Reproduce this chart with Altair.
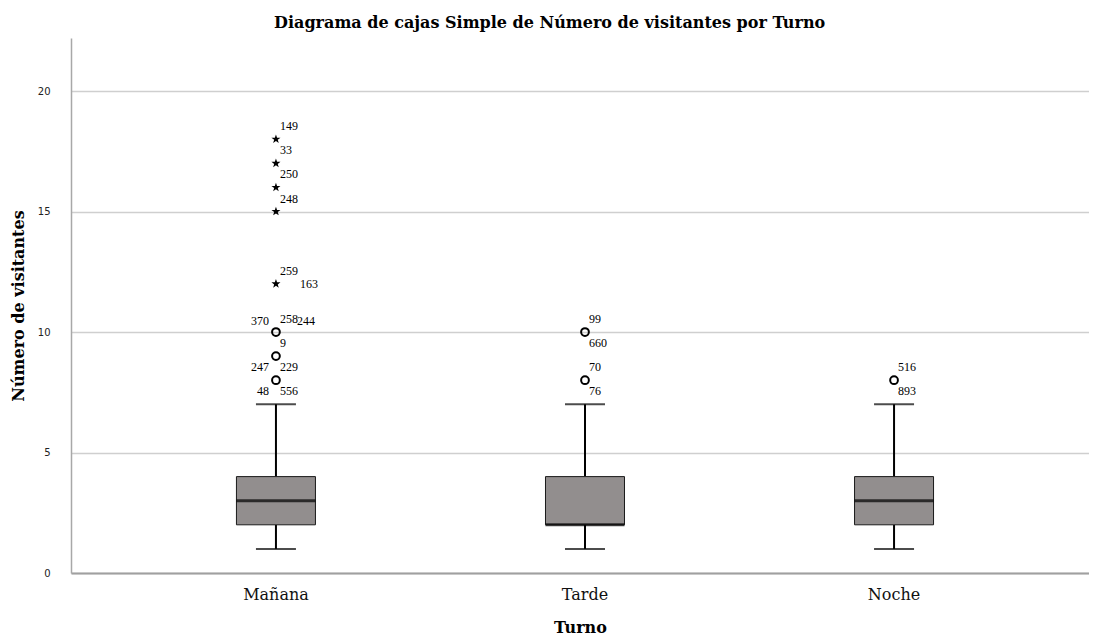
import altair as alt
import pandas as pd

# ---------------- data ----------------
categories = ["Mañana", "Tarde", "Noche"]
whisker_low = [1, 1, 1]
q1 = [2, 2, 2]
median = [3, 2, 3]
q3 = [4, 4, 4]
whisker_high = [7, 7, 7]

outlier_cat = ["Mañana", "Mañana", "Mañana", "Tarde", "Tarde", "Noche"]
outlier_val = [8, 9, 10, 8, 10, 8]

extreme_cat = ["Mañana", "Mañana", "Mañana", "Mañana", "Mañana"]
extreme_val = [12, 15, 16, 17, 18]

label_text = ["149", "33", "250", "248", "259", "163", "370", "258", "244",
              "9", "247", "229", "48", "556", "99", "660", "70", "76", "516", "893"]
label_cat = ["Mañana"] * 14 + ["Tarde"] * 4 + ["Noche"] * 2
label_val = [18, 17, 16, 15, 12, 12, 10, 10, 10, 9, 9, 9, 8, 8, 10, 10, 8, 8, 8, 8]
label_side = ["ur", "ur", "ur", "ur", "ur", "r", "ul", "ur", "ur2",
              "ur", "dl", "dr", "dl", "dr", "ur", "dr", "ur", "dr", "ur", "dr"]

# ---------------- tables ----------------
box_df = pd.DataFrame({"Turno": categories, "low": whisker_low, "q1": q1,
                       "median": median, "q3": q3, "high": whisker_high})
out_df = pd.DataFrame({"Turno": outlier_cat, "v": outlier_val})
ext_df = pd.DataFrame({"Turno": extreme_cat, "v": extreme_val})
lab_df = pd.DataFrame({"Turno": label_cat, "v": label_val, "t": label_text, "side": label_side})

SERIF = "Liberation Serif"
WSERIF = "DejaVu Serif"
y_scale = alt.Scale(domain=[0, 22.2], nice=False, zero=True)
x_scale = alt.Scale(domain=categories, paddingInner=0, paddingOuter=0.147, align=0.555)

x_enc = alt.X("Turno:N", sort=categories, scale=x_scale,
              axis=alt.Axis(title="Turno", labelAngle=0, ticks=False, tickSize=0, grid=False,
                            domainColor="#a0a0a0", domainWidth=2,
                            labelFont=WSERIF, labelFontSize=16, labelColor="#111111",
                            labelPadding=13,
                            titleFont=WSERIF, titleFontSize=16, titleFontWeight="bold",
                            titleColor="#000000", titlePadding=17))

y_axis = alt.Axis(title="Número de visitantes", values=[0, 5, 10, 15, 20],
                  grid=True, gridColor="#cfcfcf", gridWidth=1.5,
                  domainColor="#a8a8a8", domainWidth=1.5,
                  ticks=False, tickSize=0,
                  labelFont="DejaVu Sans", labelFontSize=10, labelColor="#222222",
                  labelPadding=21,
                  titleFont=WSERIF, titleFontSize=16, titleFontWeight="bold",
                  titleColor="#000000", titlePadding=11)

def Y(field):
    return alt.Y(field, type="quantitative", scale=y_scale, axis=y_axis)

base = alt.Chart(box_df)

whisk_lo = base.mark_rule(color="black", strokeWidth=2).encode(x=x_enc, y=Y("low"), y2="q1")
whisk_hi = base.mark_rule(color="black", strokeWidth=2).encode(x=x_enc, y=Y("q3"), y2="high")
cap_lo = base.mark_tick(color="black", size=40, thickness=2).encode(x=x_enc, y=Y("low"))
cap_hi = base.mark_tick(color="black", size=40, thickness=2).encode(x=x_enc, y=Y("high"))
box = base.mark_bar(size=79, color="#928e8e", stroke="#1a1a1a", strokeWidth=1).encode(
    x=x_enc, y=Y("q1"), y2="q3")
med = base.mark_tick(color="black", size=79, thickness=3).encode(x=x_enc, y=Y("median"))

circles = alt.Chart(out_df).mark_point(shape="circle", filled=False, color="black",
                                       strokeWidth=2, size=60, opacity=1).encode(
    x=x_enc, y=Y("v"))

STAR = ("M0,-1L0.235,-0.324L0.951,-0.309L0.380,0.124L0.588,0.809L0,0.4"
        "L-0.588,0.809L-0.380,0.124L-0.951,-0.309L-0.235,-0.324Z")
stars = alt.Chart(ext_df).mark_point(shape=STAR, filled=True, color="black",
                                     size=90, opacity=1).encode(x=x_enc, y=Y("v"))

side_style = {
    "ur": dict(dx=4, dy=-13, align="left"),
    "ur2": dict(dx=21, dy=-11, align="left"),
    "ul": dict(dx=-7, dy=-11, align="right"),
    "dr": dict(dx=4, dy=11, align="left"),
    "dl": dict(dx=-7, dy=11, align="right"),
    "r": dict(dx=24, dy=0, align="left"),
}
text_layers = []
for side, st in side_style.items():
    text_layers.append(
        alt.Chart(lab_df).transform_filter(alt.datum.side == side).mark_text(
            font=SERIF, fontSize=12, color="black", baseline="middle", **st
        ).encode(x=x_enc, y=Y("v"), text="t:N")
    )

chart = alt.layer(whisk_lo, whisk_hi, cap_lo, cap_hi, box, med, circles, stars, *text_layers).properties(
    width=1018, height=535,
    background="white",
    autosize=alt.AutoSizeParams(type="none"),
    padding={"left": 63, "top": 30, "right": 0, "bottom": 63},
    title=alt.TitleParams("Diagrama de cajas Simple de Número de visitantes por Turno",
                          font=WSERIF, fontSize=16, fontWeight="bold", color="black",
                          anchor="middle", frame="bounds", offset=7),
).configure_view(strokeWidth=0, strokeOpacity=0)

chart.save("out.html", embed_options={"renderer": "svg", "actions": False})
